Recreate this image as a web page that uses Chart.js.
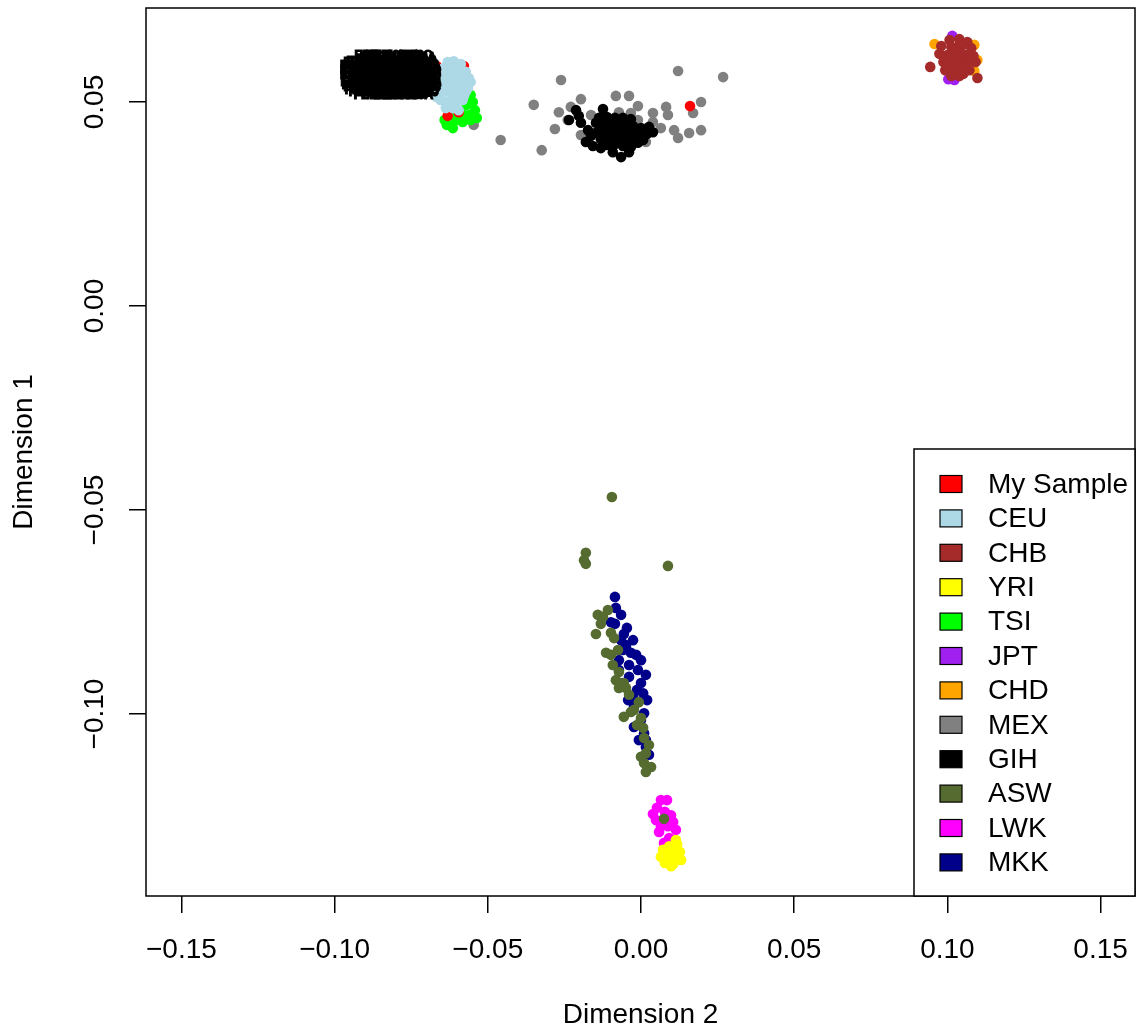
<!DOCTYPE html>
<html>
<head>
<meta charset="utf-8">
<script src="https://cdn.jsdelivr.net/npm/chart.js@4.4.1/dist/chart.umd.min.js"></script>
<style>
html,body{margin:0;padding:0;background:#ffffff;}
canvas{display:block;}
</style>
</head>
<body>
<canvas id="c" width="1136" height="1029"></canvas>
<script>
// ---------- categories / legend ----------
const seriesNames  = ["My Sample","CEU","CHB","YRI","TSI","JPT","CHD","MEX","GIH","ASW","LWK","MKK"];
const seriesColors = ["#FF0000","#ADD8E6","#A52A2A","#FFFF00","#00FF00","#A020F0","#FFA500","#808080","#000000","#556B2F","#FF00FF","#00008B"];
// drawing layer (lower = drawn on top)
const seriesLayer  = [6,5,10,2,7,12,11,9,8,1,3,4];

// ---------- axis ticks ----------
const xTickValues = [-0.15,-0.10,-0.05,0.00,0.05,0.10,0.15];
const xTickLabels = ["\u22120.15","\u22120.10","\u22120.05","0.00","0.05","0.10","0.15"];
const yTickValues = [-0.10,-0.05,0.00,0.05];
const yTickLabels = ["\u22120.10","\u22120.05","0.00","0.05"];
const xTitle = "Dimension 2";
const yTitle = "Dimension 1";

// ---------- series values ----------
const mySampleX = [-0.0667,-0.0578,-0.0663,-0.0631,-0.0595,0.0160];
const mySampleY = [0.0588,0.0588,0.0569,0.0466,0.0475,0.0490];

const ceuX = [-0.0631,-0.0611,-0.0588,-0.0644,-0.0621,-0.0598,-0.0572,-0.0660,-0.0637,-0.0614,-0.0588,-0.0562,-0.0654,-0.0631,-0.0605,-0.0582,-0.0556,-0.0663,-0.0641,-0.0618,-0.0595,-0.0572,-0.0654,-0.0627,-0.0605,-0.0582,-0.0637,-0.0614,-0.0595,-0.0667,-0.0624,-0.0601,-0.0578,-0.0565];
const ceuY = [0.0598,0.0600,0.0593,0.0583,0.0583,0.0578,0.0574,0.0566,0.0564,0.0564,0.0559,0.0559,0.0544,0.0544,0.0542,0.0539,0.0549,0.0525,0.0525,0.0522,0.0520,0.0525,0.0505,0.0502,0.0500,0.0505,0.0485,0.0485,0.0480,0.0512,0.0534,0.0554,0.0515,0.0534];

const chbX = [0.1007,0.1039,0.1065,0.0980,0.1013,0.1046,0.1078,0.0974,0.1000,0.1029,0.1059,0.1085,0.0987,0.1013,0.1039,0.1065,0.1092,0.0993,0.1020,0.1046,0.1072,0.1013,0.1039,0.0944,0.1098,0.1029,0.1052,0.1000,0.1033,0.0990,0.1072,0.1026,0.1052];
const chbY = [0.0652,0.0654,0.0647,0.0637,0.0635,0.0637,0.0632,0.0618,0.0615,0.0618,0.0615,0.0613,0.0598,0.0596,0.0598,0.0596,0.0598,0.0578,0.0576,0.0578,0.0578,0.0564,0.0564,0.0586,0.0559,0.0608,0.0588,0.0588,0.0635,0.0608,0.0603,0.0583,0.0569];

const yriX = [0.0092,0.0118,0.0072,0.0105,0.0127,0.0065,0.0092,0.0118,0.0078,0.0105,0.0131,0.0098,0.0114];
const yriY = [-0.1324,-0.1319,-0.1333,-0.1333,-0.1338,-0.1350,-0.1350,-0.1353,-0.1365,-0.1368,-0.1358,-0.1373,-0.1309];

const tsiX = [-0.0572,-0.0556,-0.0549,-0.0569,-0.0542,-0.0588,-0.0562,-0.0621,-0.0605,-0.0582,-0.0634,-0.0614,-0.0556,-0.0536,-0.0595,-0.0641];
const tsiY = [0.0529,0.0517,0.0500,0.0493,0.0480,0.0475,0.0468,0.0468,0.0456,0.0451,0.0444,0.0436,0.0456,0.0461,0.0461,0.0456];

const jptX = [0.1016,0.1003,0.1023,0.1033,0.1052];
const jptY = [0.0662,0.0556,0.0554,0.0627,0.0603];

const chdX = [0.0958,0.1088,0.1098,0.1088,0.1029,0.0997];
const chdY = [0.0642,0.0640,0.0603,0.0576,0.0603,0.0603];

const mexX = [-0.0261,0.0121,0.0268,-0.0350,-0.0268,-0.0458,-0.0324,-0.0281,-0.0082,-0.0039,-0.0010,-0.0196,-0.0229,-0.0072,-0.0033,0.0039,0.0082,0.0088,0.0039,0.0065,0.0108,0.0121,0.0157,0.0196,0.0196,0.0170,-0.0010,-0.0239,0.0023,-0.0546,-0.0163,-0.0114,0.0016,-0.0196];
const mexY = [0.0554,0.0576,0.0561,0.0493,0.0475,0.0407,0.0382,0.0434,0.0515,0.0515,0.0490,0.0507,0.0488,0.0475,0.0473,0.0473,0.0488,0.0468,0.0451,0.0436,0.0431,0.0412,0.0424,0.0431,0.0500,0.0473,0.0456,0.0456,0.0431,0.0444,0.0468,0.0461,0.0402,0.0419];

const gihX = [-0.0212,-0.0124,-0.0235,-0.0196,-0.0173,-0.0147,-0.0180,-0.0131,-0.0065,0.0007,-0.0010,-0.0088,-0.0137,-0.0111,-0.0085,-0.0059,-0.0033,-0.0131,-0.0105,-0.0078,-0.0052,-0.0026,0.0000,-0.0144,-0.0118,-0.0092,-0.0065,-0.0039,-0.0013,-0.0131,-0.0105,-0.0078,-0.0052,-0.0026,-0.0111,-0.0059,-0.0033,-0.0163,-0.0203,-0.0092,-0.0039,0.0020,-0.0157,0.0039,0.0026];
const gihY = [0.0480,0.0483,0.0456,0.0449,0.0431,0.0449,0.0402,0.0387,0.0365,0.0407,0.0400,0.0395,0.0461,0.0463,0.0461,0.0461,0.0458,0.0444,0.0444,0.0444,0.0441,0.0441,0.0436,0.0426,0.0426,0.0426,0.0424,0.0424,0.0422,0.0409,0.0409,0.0407,0.0407,0.0407,0.0395,0.0392,0.0390,0.0417,0.0466,0.0377,0.0377,0.0422,0.0392,0.0426,0.0439];

const aswX = [-0.0095,-0.0180,-0.0186,-0.0180,0.0088,-0.0141,-0.0108,-0.0124,-0.0147,-0.0098,-0.0088,-0.0114,-0.0098,-0.0075,-0.0072,-0.0082,-0.0056,-0.0049,-0.0007,-0.0023,-0.0056,-0.0033,0.0000,0.0007,0.0010,0.0016,0.0010,0.0033,0.0016,0.0000,-0.0072,0.0075,-0.0131,-0.0092,-0.0039,-0.0013,0.0026];
const aswY = [-0.0468,-0.0605,-0.0623,-0.0632,-0.0637,-0.0757,-0.0745,-0.0762,-0.0804,-0.0801,-0.0814,-0.0850,-0.0855,-0.0843,-0.0897,-0.0917,-0.0924,-0.0936,-0.0971,-0.0990,-0.1007,-0.0995,-0.1010,-0.1034,-0.1059,-0.1096,-0.1120,-0.1130,-0.1142,-0.1105,-0.0936,-0.1257,-0.0779,-0.0880,-0.0953,-0.1027,-0.1076];

const lwkX = [0.0065,0.0085,0.0052,0.0078,0.0098,0.0049,0.0065,0.0105,0.0114,0.0059,0.0092,0.0075,0.0108,0.0088,0.0039];
const lwkY = [-0.1211,-0.1211,-0.1230,-0.1240,-0.1248,-0.1260,-0.1275,-0.1265,-0.1284,-0.1289,-0.1304,-0.1316,-0.1309,-0.1275,-0.1245];

const mkkX = [-0.0085,-0.0082,-0.0098,-0.0085,-0.0056,-0.0049,-0.0016,-0.0072,-0.0010,-0.0039,0.0000,-0.0026,0.0007,-0.0042,-0.0023,0.0010,-0.0023,0.0010,0.0016,0.0026,-0.0072,-0.0059,-0.0049,-0.0033,-0.0065,-0.0039,-0.0013,0.0000,0.0016,-0.0065,-0.0046,-0.0026,0.0000,0.0016,0.0020,-0.0007,-0.0059];
const mkkY = [-0.0713,-0.0740,-0.0775,-0.0779,-0.0804,-0.0831,-0.0855,-0.0868,-0.0892,-0.0909,-0.0924,-0.0958,-0.0949,-0.0966,-0.0983,-0.0998,-0.1032,-0.1047,-0.1081,-0.1100,-0.0892,-0.0924,-0.0836,-0.0850,-0.0819,-0.0880,-0.0941,-0.1015,-0.1064,-0.0757,-0.0789,-0.0819,-0.0868,-0.0904,-0.0966,-0.1064,-0.0843];

// ---------- overlapping sample-ID text labels ----------
const labelX = [-0.0826,-0.0790,-0.0809,-0.0777,-0.0852,-0.0809,-0.0770,-0.0862,-0.0816,-0.0780,-0.0875,-0.0819,-0.0760,-0.0868,-0.0803,-0.0763,-0.0875,-0.0826,-0.0780,-0.0760,-0.0872,-0.0809,-0.0767,-0.0875,-0.0819,-0.0760,-0.0868,-0.0803,-0.0763,-0.0868,-0.0822,-0.0763,-0.0872,-0.0806,-0.0767,-0.0868,-0.0816,-0.0760,-0.0862,-0.0800,-0.0763,-0.0858,-0.0813,-0.0767,-0.0845,-0.0800,-0.0770,-0.0829,-0.0787,-0.0800];
const labelY = [0.0613,0.0613,0.0608,0.0608,0.0600,0.0600,0.0600,0.0596,0.0596,0.0596,0.0588,0.0588,0.0588,0.0583,0.0583,0.0583,0.0576,0.0576,0.0576,0.0576,0.0571,0.0571,0.0571,0.0564,0.0564,0.0564,0.0559,0.0559,0.0559,0.0551,0.0551,0.0551,0.0547,0.0547,0.0547,0.0539,0.0539,0.0539,0.0534,0.0534,0.0534,0.0527,0.0527,0.0527,0.0522,0.0522,0.0522,0.0515,0.0515,0.0518];
const labelText = [
 "FBEL1050A","FBEL1052C","FBEL1061B","FBEL1063A","FBEL1070D",
 "FBEL1072B","FBEL1081A","FBEL1083C","FBEL1090B","FBEL1094A",
 "FBEL1102C","FBEL1105B","FBEL1110A","FBEL1113D","FBEL1121B",
 "FBEL1124A","FBEL1130C","FBEL1136B","FBEL1141A","FBEL1147D",
 "FBEL1152B","FBEL1158A","FBEL1163C","FBEL1169B","FBEL1174A",
 "FBEL1180D","FBEL1185B","FBEL1191A","FBEL1196C","FBEL1202B",
 "FBEL1207A","FBEL1213D","FBEL1218B","FBEL1224A","FBEL1229C",
 "FBEL1235B","FBEL1240A","FBEL1246D","FBEL1251B","FBEL1257A",
 "FBEL1262C","FBEL1268B","FBEL1273A","FBEL1279D","FBEL1284B",
 "FBEL1290A","FBEL1295C","FBEL1301B","FBEL1306A","FBEL1312D"
];

const seriesX = [mySampleX,ceuX,chbX,yriX,tsiX,jptX,chdX,mexX,gihX,aswX,lwkX,mkkX];
const seriesY = [mySampleY,ceuY,chbY,yriY,tsiY,jptY,chdY,mexY,gihY,aswY,lwkY,mkkY];

const FONT = '"Liberation Sans", Arial, Helvetica, sans-serif';
const FS = 28;

const datasets = seriesNames.map((name, k) => ({
  label: name,
  data: seriesX[k].map((x, i) => ({x: x, y: seriesY[k][i]})),
  backgroundColor: seriesColors[k],
  borderColor: seriesColors[k],
  pointRadius: 5.3,
  pointBorderWidth: 0,
  pointHoverRadius: 5.3,
  order: seriesLayer[k]
}));
datasets.push({
  label: "ids",
  data: labelX.map((x, i) => ({x: x, y: labelY[i]})),
  pointRadius: 0,
  pointHoverRadius: 0,
  order: 0
});
const labelIdx = datasets.length - 1;

const rStyle = {
  id: 'rStyle',
  afterDatasetsDraw(chart) {
    const ctx = chart.ctx, a = chart.chartArea;
    const meta = chart.getDatasetMeta(labelIdx);
    ctx.save();
    ctx.beginPath();
    ctx.rect(a.left, a.top, a.right - a.left, a.bottom - a.top);
    ctx.clip();
    ctx.font = 'bold 12px ' + FONT;
    ctx.fillStyle = '#000';
    ctx.strokeStyle = '#000';
    ctx.lineWidth = 1.2;
    ctx.textAlign = 'center';
    ctx.textBaseline = 'middle';
    meta.data.forEach((el, i) => {
      ctx.strokeText(labelText[i], el.x, el.y);
      ctx.fillText(labelText[i], el.x, el.y);
    });
    ctx.restore();
  },
  afterDraw(chart) {
    const ctx = chart.ctx, a = chart.chartArea;
    ctx.save();
    // plot box
    ctx.strokeStyle = '#000';
    ctx.lineWidth = 1.5;
    ctx.strokeRect(a.left, a.top, a.right - a.left, a.bottom - a.top);
    // y tick labels (rotated, R style)
    const ys = chart.scales.y;
    ctx.fillStyle = '#000';
    ctx.font = FS + 'px ' + FONT;
    ctx.textAlign = 'center';
    ctx.textBaseline = 'middle';
    ys.ticks.forEach((t, i) => {
      const py = ys.getPixelForValue(t.value);
      ctx.save();
      ctx.translate(a.left - 51, py);
      ctx.rotate(-Math.PI / 2);
      ctx.fillText(yTickLabels[i], 0, 0);
      ctx.restore();
    });
    // legend (bottom right)
    const bw = 221, bh = 447;
    const bl = a.right - bw, bt = a.bottom - bh;
    ctx.fillStyle = '#fff';
    ctx.fillRect(bl, bt, bw, bh);
    ctx.lineWidth = 1.5;
    ctx.strokeStyle = '#000';
    ctx.strokeRect(bl, bt, bw, bh);
    ctx.textAlign = 'left';
    ctx.textBaseline = 'middle';
    ctx.font = FS + 'px ' + FONT;
    seriesNames.forEach((name, k) => {
      const cy = bt + 35 + k * 34.4;
      ctx.fillStyle = seriesColors[k];
      ctx.fillRect(bl + 26, cy - 8.5, 22, 17);
      ctx.lineWidth = 1.2;
      ctx.strokeStyle = '#000';
      ctx.strokeRect(bl + 26, cy - 8.5, 22, 17);
      ctx.fillStyle = '#000';
      ctx.fillText(name, bl + 74, cy + 1);
    });
    ctx.restore();
  }
};

new Chart(document.getElementById('c'), {
  type: 'scatter',
  data: { datasets: datasets },
  plugins: [rStyle],
  options: {
    responsive: false,
    animation: false,
    events: [],
    layout: { autoPadding: false, padding: { top: 8, right: 1, left: 0, bottom: 0 } },
    plugins: { legend: { display: false }, tooltip: { enabled: false } },
    scales: {
      x: {
        type: 'linear',
        position: 'bottom',
        min: -0.16155,
        max: 0.16123,
        afterBuildTicks: s => { s.ticks = xTickValues.map(v => ({value: v})); },
        afterFit: s => { s.height = 133; s.paddingLeft = 0; s.paddingRight = 0; },
        ticks: {
          autoSkip: false,
          maxRotation: 0,
          minRotation: 0,
          padding: 20,
          color: '#000',
          font: { size: FS, family: FONT },
          callback: (v, i) => xTickLabels[i]
        },
        grid: { drawOnChartArea: false, drawTicks: true, tickLength: 17, color: '#000', lineWidth: 1.5 },
        border: { display: false },
        title: { display: true, text: xTitle, color: '#000', font: { size: FS, family: FONT, lineHeight: 1 }, padding: { top: 0, bottom: 0 } }
      },
      y: {
        type: 'linear',
        position: 'left',
        min: -0.14461,
        max: 0.07304,
        afterBuildTicks: s => { s.ticks = yTickValues.map(v => ({value: v})); },
        afterFit: s => { s.width = 146; s.paddingTop = 0; s.paddingBottom = 0; },
        ticks: { display: false },
        grid: { drawOnChartArea: false, drawTicks: true, tickLength: 17, color: '#000', lineWidth: 1.5 },
        border: { display: false },
        title: { display: true, text: yTitle, color: '#000', font: { size: FS, family: FONT, lineHeight: 1 }, padding: { top: 10, bottom: 0 } }
      }
    }
  }
});
</script>
</body>
</html>
